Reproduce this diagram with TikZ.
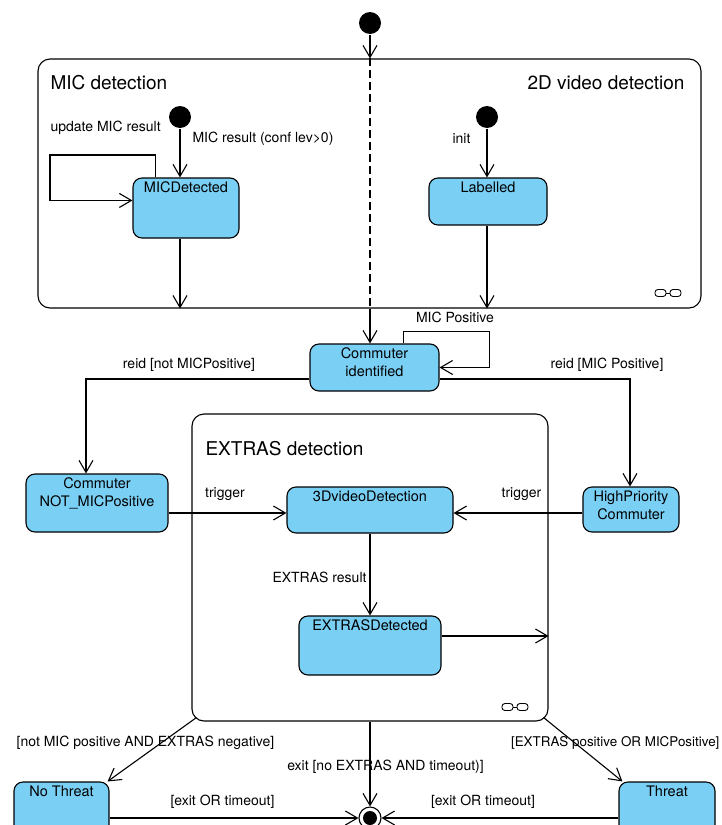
\documentclass[tikz,border=0pt]{standalone}
\usepackage{fontspec}
\setmainfont{TeX Gyre Heros}
\usetikzlibrary{arrows.meta,calc}
\definecolor{sfill}{RGB}{122,207,245}
\begin{document}
\begin{tikzpicture}[x=1pt,y=-1pt,
  line width=1.1pt,
  arr/.style={-{Straight Barb[length=12pt,width=14pt]}},
  state/.style={draw, fill=sfill, rounded corners=9pt, inner sep=0pt},
  stxt/.style={font=\fontsize{14.5}{18}\selectfont, align=center, anchor=north, inner sep=4pt},
  lbl/.style={font=\fontsize{14}{17}\selectfont, inner sep=0pt},
  ttl/.style={font=\fontsize{19}{22}\selectfont, inner sep=0pt},
  comp/.style={draw, rounded corners=12pt, inner sep=0pt},
  initst/.style={circle, fill=black, minimum size=22pt, inner sep=0pt},
  linkicon/.pic={
    \draw[line width=0.9pt, rounded corners=3pt] (-13,-3.5) rectangle (-2,3.5);
    \draw[line width=0.9pt, rounded corners=3pt] (2,-3.5) rectangle (13,3.5);
    \draw[line width=0.9pt] (-2,0) -- (2,0);
  }
]
\clip (0,0) rectangle (721,825);
\fill[white] (0,0) rectangle (721,825);

% composite states
\node[comp, minimum width=663pt, minimum height=249pt] (big) at (369.5,183.5) {};
\node[comp, minimum width=356pt, minimum height=307pt] (extras) at (370,567.5) {};
\pic at (668,293) {linkicon};
\pic at (515,707) {linkicon};
\node[ttl, anchor=west] (tmic) at (50,83) {MIC detection};
\node[ttl, anchor=east] (tvid) at (685,83) {2D video detection};
\node[ttl, anchor=west] (tex) at (205,449) {EXTRAS detection};

% initial states
\node[initst] (init0) at (370,23) {};
\node[initst] (micinit) at (180,117) {};
\node[initst] (vidinit) at (487,117) {};

% states
\node[state, minimum width=106pt, minimum height=60pt] (mic) at (186,208) {};
\node[stxt] (micT) at (mic.north) {MICDetected};
\node[state, minimum width=118pt, minimum height=47pt] (lab) at (488,201.5) {};
\node[stxt] (labT) at (lab.north) {Labelled};
\node[state, minimum width=129pt, minimum height=47pt] (ci) at (374.5,367.5) {};
\node[stxt] (ciT) at (ci.north) {Commuter\\identified};
\node[state, minimum width=142pt, minimum height=58pt] (nm) at (97,503) {};
\node[stxt] (nmT) at (nm.north) {Commuter\\NOT\_MICPositive};
\node[state, minimum width=96pt, minimum height=45pt] (hp) at (631,509.5) {};
\node[stxt] (hpT) at (hp.north) {HighPriority\\Commuter};
\node[state, minimum width=166pt, minimum height=46pt] (vd) at (370,510) {};
\node[stxt] (vdT) at (vd.north) {3DvideoDetection};
\node[state, minimum width=142pt, minimum height=59pt] (ed) at (370,645.5) {};
\node[stxt] (edT) at (ed.north) {EXTRASDetected};
\node[state, minimum width=95pt, minimum height=72pt] (nt) at (61.5,818) {};
\node[stxt] (ntT) at (nt.north) {No Threat};
\node[state, minimum width=96pt, minimum height=72pt] (th) at (667,818) {};
\node[stxt] (thT) at (th.north) {Threat};

% final state
\node[circle, draw, fill=white, minimum size=22pt, inner sep=0pt] (fin) at (370,818) {};
\node[circle, fill=black, minimum size=14pt, inner sep=0pt] (finin) at (370,818) {};

% top transitions
\draw[arr] (init0) -- (init0 |- big.north);
\draw[dash pattern=on 8pt off 4pt] (init0 |- big.north) -- (init0 |- big.south);
\draw[arr] (init0 |- big.south) -- (init0 |- ci.north);

\draw[arr] (micinit) -- (micinit |- mic.north);
\draw[arr] ($(mic.north west)+(23,0)$) |- (50,155) |- ($(mic.north west)+(0,23)$);
\draw[arr] (micinit |- mic.south) -- (micinit |- big.south);
\draw[arr] (vidinit) -- (vidinit |- lab.north);
\draw[arr] (vidinit |- lab.south) -- (vidinit |- big.south);

\node[lbl, anchor=west] (l1) at (192,139) {MIC result (conf lev>0)};
\node[lbl, anchor=west] (l2) at (50,128) {update MIC result};
\node[lbl, anchor=west] (l3) at (452,139) {init};

% commuter identified
\draw[arr] ($(ci.north west)+(94,0)$) -- ++(0,-12) -| ($(ci.east)+(50,0)$) -- (ci.east);
\node[lbl] (l4) at (455,317) {MIC Positive};
\draw[arr] ($(ci.west)+(0,11.5)$) -| ($(nm.north)+(-11,0)$);
\draw[arr] ($(ci.east)+(0,11.5)$) -| ($(hp.north)+(-1,0)$);
\node[lbl] (l5) at (189,365) {reid [not MICPositive]};
\node[lbl] (l6) at (607,365) {reid [MIC Positive]};

% extras
\coordinate (vdl) at ($(vd.west)+(0,3)$);
\coordinate (vdr) at ($(vd.east)+(0,3)$);
\draw[arr] (nm.east |- vdl) -- (vdl);
\draw[arr] (hp.west |- vdr) -- (vdr);
\node[lbl] (l7) at (225,494) {trigger};
\node[lbl] (l8) at (521.5,494) {trigger};
\draw[arr] (vd.south) -- (ed.north);
\node[lbl] (l9) at (319.5,577) {EXTRAS result};
\coordinate (edr) at ($(ed.east)+(0,-9.5)$);
\draw[arr] (edr) -- (extras.east |- edr);

% bottom
\draw[arr] ($(extras.south west)+(5,-4)$) -- ($(nt.north east)+(-2,0)$);
\draw[arr] ($(extras.south east)+(-5,-4)$) -- ($(th.north west)+(4,0)$);
\draw[arr] (extras.south) -- (fin.north);
\draw[arr] (nt.east) -- (fin.west);
\draw[arr] (th.west) -- (fin.east);
\node[lbl] (l10) at (145.5,743) {[not MIC positive AND EXTRAS negative]};
\node[lbl, anchor=east, font=\fontsize{13.4}{16}\selectfont] (l11) at (720,743) {[EXTRAS positive OR MICPositive]};
\node[lbl] (l12) at (385.5,767) {exit [no EXTRAS AND timeout)]};
\node[lbl] (l13) at (222.5,802) {[exit OR timeout]};
\node[lbl] (l14) at (483,802) {[exit OR timeout]};
\end{tikzpicture}
\end{document}
